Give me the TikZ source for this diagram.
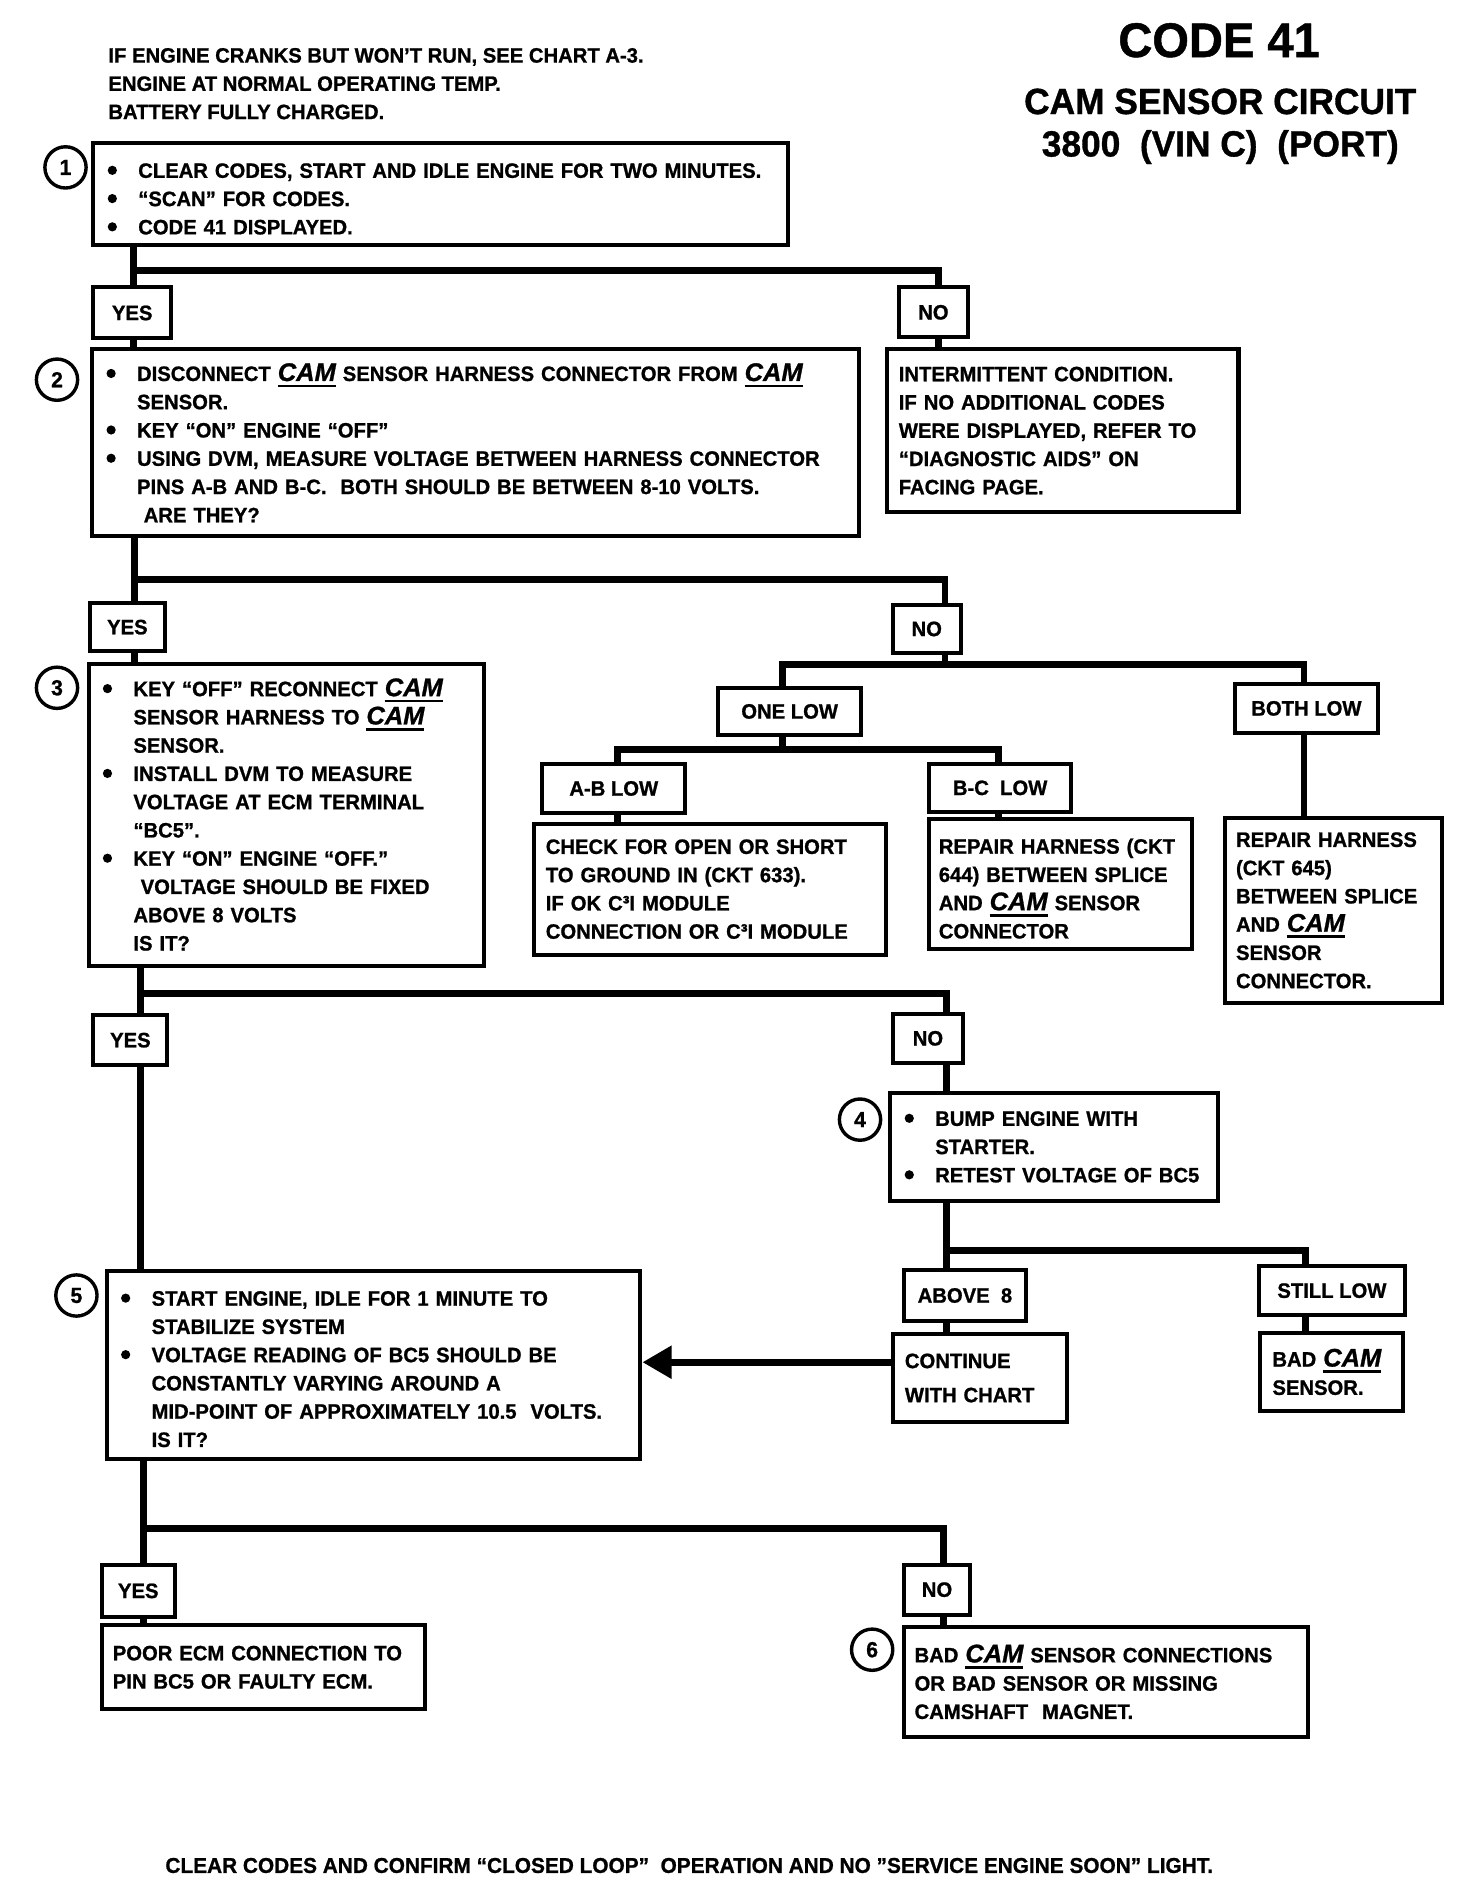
\documentclass[tikz,border=0pt]{standalone}
\usepackage{fontspec}
\setmainfont{Liberation Sans}[BoldFeatures={FakeBold=1, FakeStretch=0.97}, BoldItalicFeatures={FakeBold=1}]
\usetikzlibrary{arrows.meta,calc}

\newcommand\bodyfont{\fontsize{8.6}{11.65}\selectfont\bfseries\lineskiplimit=-20pt\relax}
\newcommand\bul{\makebox[13.5pt][l]{\hspace*{0.9pt}\tikz[baseline=0pt]\fill (1.9pt,3.1pt) circle[radius=1.9pt];}}
\newcommand\bl[1]{\mbox{\bul#1}}
\newcommand\il[1]{\mbox{\hspace*{13.5pt}#1}}
\newcommand\cam{\mbox{\setbox0\hbox{\fontsize{10.5}{10.5}\selectfont\bfseries\itshape CAM}\rlap{\rule[-2.6pt]{\wd0}{1.1pt}}\box0}}

\tikzset{
  bx/.style n args={3}{draw, line width=1.65pt, minimum width=#1, minimum height=#2,
    inner xsep=#3, inner ysep=0pt, text width=\dimexpr #1-#3-#3\relax, align=left},
  lbl/.style 2 args={draw, line width=1.65pt, minimum width=#1, minimum height=#2, inner sep=0pt},
  circ/.style={draw, circle, line width=1.4pt, minimum size=17pt, inner sep=0pt,
    font=\fontsize{9}{9}\selectfont\bfseries},
  conn/.style={line width=2.8pt, line join=miter},
}

\begin{document}
\begin{tikzpicture}[x=0.5pt, y=-0.5pt, every node/.style={font=\bodyfont}]
\useasboundingbox (0,0) rectangle (1214,1568);

% header
\node[anchor=west, align=left, inner sep=0pt] (hd) at (89,69)
  {IF ENGINE CRANKS BUT WON’T RUN, SEE CHART A-3.\\ENGINE AT NORMAL OPERATING TEMP.\\BATTERY FULLY CHARGED.};
\node[anchor=base, inner sep=0pt, font=\fontsize{20}{24}\selectfont\bfseries] (t1) at (1005,47) {CODE 41};
\node[anchor=base, inner sep=0pt, font=\fontsize{15}{18}\selectfont\bfseries] (t2) at (1006,94) {CAM SENSOR CIRCUIT};
\node[anchor=base, inner sep=0pt, font=\fontsize{15}{18}\selectfont\bfseries] (t3) at (1006,129) {3800\ \ (VIN C)\ \ (PORT)};

% step 1
\node[bx={286.5pt}{42pt}{5pt}] (b1) at (363.5,160)
  {\bl{\rule{0pt}{10pt}CLEAR CODES, START AND IDLE ENGINE FOR TWO MINUTES.}\\
   \bl{“SCAN” FOR CODES.}\\
   \bl{CODE 41 DISPLAYED.}};
\node[circ] (c1) at (54,138) {1};
\node[lbl={32pt}{21pt}] (y1) at (109,258) {YES};
\node[lbl={28.5pt}{20.5pt}] (n1) at (769.5,257.5) {NO};

% step 2
\node[bx={316pt}{77pt}{5pt}] (b2) at (392,365)
  {\bl{DISCONNECT \cam{} SENSOR HARNESS CONNECTOR FROM \cam}\\
   \il{SENSOR.}\\
   \bl{KEY “ON” ENGINE “OFF”}\\
   \bl{USING DVM, MEASURE VOLTAGE BETWEEN HARNESS CONNECTOR}\\
   \il{PINS A-B AND B-C.\ \ BOTH SHOULD BE BETWEEN 8-10 VOLTS.}\\
   \il{\hspace*{2.75pt}ARE THEY?}};
\node[circ] (c2) at (47,313) {2};
\node[bx={145pt}{67pt}{5pt}] (i1) at (876,355)
  {\mbox{INTERMITTENT CONDITION.}\\\mbox{IF NO ADDITIONAL CODES}\\\mbox{WERE DISPLAYED, REFER TO}\\\mbox{“DIAGNOSTIC AIDS” ON}\\\mbox{FACING PAGE.}};
\node[lbl={31pt}{20pt}] (y2) at (105,517) {YES};
\node[lbl={28pt}{19.5pt}] (n2) at (764,518.5) {NO};

% step 3
\node[bx={163pt}{124.5pt}{5pt}] (b3) at (236,671.5)
  {\bl{KEY “OFF” RECONNECT \cam}\\
   \il{SENSOR HARNESS TO \cam}\\
   \il{SENSOR.}\\
   \bl{INSTALL DVM TO MEASURE}\\
   \il{VOLTAGE AT ECM TERMINAL}\\
   \il{“BC5”.}\\
   \bl{KEY “ON” ENGINE “OFF.”}\\
   \il{\hspace*{3pt}VOLTAGE SHOULD BE FIXED}\\
   \il{ABOVE 8 VOLTS}\\
   \il{IS IT?}};
\node[circ] (c3) at (47,567) {3};

\node[lbl={59pt}{19.5pt}] (ol) at (651,586.5) {ONE LOW};
\node[lbl={59pt}{20pt}] (bl) at (1077,584) {BOTH LOW};
\node[lbl={59pt}{20pt}] (ab) at (506,650) {A-B LOW};
\node[lbl={58.5pt}{19.5pt}] (bcl) at (824.5,649.5) {B-C\ \ LOW};
\node[bx={145pt}{54pt}{5pt}] (ck) at (585,733)
  {\mbox{CHECK FOR OPEN OR SHORT}\\\mbox{TO GROUND IN (CKT 633).}\\\mbox{IF OK C³I MODULE}\\\mbox{CONNECTION OR C³I MODULE}};
\node[bx={108.5pt}{53.5pt}{4pt}] (r4) at (874.5,728.5)
  {\mbox{\rule{0pt}{10.3pt}REPAIR HARNESS (CKT}\\\mbox{644) BETWEEN SPLICE}\\\mbox{AND \cam{} SENSOR}\\\mbox{CONNECTOR}};
\node[bx={89.5pt}{76.5pt}{4.5pt}] (r5) at (1099.5,750.5)
  {\mbox{REPAIR HARNESS}\\\mbox{(CKT 645)}\\\mbox{BETWEEN SPLICE}\\\mbox{AND \cam}\\\mbox{SENSOR}\\\mbox{CONNECTOR.}};

\node[lbl={30.5pt}{20.5pt}] (y3) at (107.5,857.5) {YES};
\node[lbl={29pt}{20pt}] (n3) at (765,856) {NO};

% step 4
\node[bx={135pt}{44.5pt}{5pt}] (b4) at (869,945.5)
  {\bl{BUMP ENGINE WITH}\\
   \il{STARTER.}\\
   \bl{RETEST VOLTAGE OF BC5}};
\node[circ] (c4) at (709,923) {4};
\node[lbl={50.5pt}{21pt}] (a8) at (795.5,1068) {ABOVE\ \ 8};
\node[lbl={60pt}{20pt}] (sl) at (1098,1064) {STILL LOW};
\node[bx={72pt}{36pt}{5pt}] (ct) at (808,1136) {\mbox{CONTINUE}\\[2.4pt]\mbox{WITH CHART}};
\node[bx={59pt}{32pt}{5pt}] (bcs) at (1098,1131) {\mbox{BAD \cam}\\\mbox{SENSOR.}};

% step 5
\node[bx={220pt}{77.5pt}{5pt}] (b5) at (308,1125.5)
  {\bl{\rule{0pt}{9.2pt}START ENGINE, IDLE FOR 1 MINUTE TO}\\
   \il{STABILIZE SYSTEM}\\
   \bl{VOLTAGE READING OF BC5 SHOULD BE}\\
   \il{CONSTANTLY VARYING AROUND A}\\
   \il{MID-POINT OF APPROXIMATELY 10.5\ \ VOLTS.}\\
   \il{IS IT?}};
\node[circ] (c5) at (63,1068) {5};
\node[lbl={30pt}{21.5pt}] (y5) at (114,1311.5) {YES};
\node[lbl={27.5pt}{20.5pt}] (n5) at (772.5,1310.5) {NO};
\node[bx={133pt}{34.5pt}{4.5pt}] (pe) at (217,1374.5)
  {\mbox{POOR ECM CONNECTION TO}\\\mbox{PIN BC5 OR FAULTY ECM.}};
\node[bx={166.5pt}{45.5pt}{4.5pt}] (b6) at (911.5,1386.5)
  {\mbox{BAD \cam{} SENSOR CONNECTIONS}\\\mbox{OR BAD SENSOR OR MISSING}\\\mbox{CAMSHAFT\ \ MAGNET.}};
\node[circ] (c6) at (719,1360) {6};

% footer
\node[anchor=base west, inner sep=0pt, font=\fontsize{8.85}{11}\selectfont\bfseries] (ft) at (136,1544)
  {CLEAR CODES AND CONFIRM “CLOSED LOOP”\ \ OPERATION AND NO ”SERVICE ENGINE SOON” LIGHT.};

% connectors
\coordinate (j1) at (110,223); \coordinate (j1r) at (774,223);
\draw[conn] (b1.south -| j1) -- (y1.north -| j1);
\draw[conn] (j1) -- (j1r) -- (n1.north -| j1r);
\draw[conn] (n1.south -| j1r) -- (i1.north -| j1r);
\draw[conn] (y1.south -| j1) -- (b2.north -| j1);

\coordinate (j2) at (111,478); \coordinate (j2r) at (779,478);
\draw[conn] (b2.south -| j2) -- (y2.north -| j2);
\draw[conn] (j2) -- (j2r) -- (n2.north -| j2r);
\draw[conn] (y2.south -| j2) -- (b3.north -| j2);

\coordinate (j3) at (779,548); \coordinate (j3l) at (645,548); \coordinate (j3r) at (1075,548);
\draw[conn] (n2.south -| j3) -- (j3);
\draw[conn] (ol.north -| j3l) -- (j3l) -- (j3r) -- (bl.north -| j3r);
\draw[conn] (bl.south -| j3r) -- (r5.north -| j3r);

\coordinate (j4) at (645,618); \coordinate (j4l) at (509,618); \coordinate (j4r) at (823,618);
\draw[conn] (ol.south -| j4) -- (j4);
\draw[conn] (ab.north -| j4l) -- (j4l) -- (j4r) -- (bcl.north -| j4r);
\draw[conn] (ab.south -| j4l) -- (ck.north -| j4l);
\draw[conn] (bcl.south -| j4r) -- (r4.north -| j4r);

\coordinate (j5) at (116,819); \coordinate (j5r) at (780,819);
\draw[conn] (b3.south -| j5) -- (y3.north -| j5);
\draw[conn] (j5) -- (j5r) -- (n3.north -| j5r);
\draw[conn] (n3.south -| j5r) -- (b4.north -| j5r);
\draw[conn] (y3.south -| j5) -- (b5.north -| j5);

\coordinate (j6) at (780,1031); \coordinate (j6r) at (1076,1031);
\draw[conn] (b4.south -| j6) -- (a8.north -| j6);
\draw[conn] (j6) -- (j6r) -- (sl.north -| j6r);
\draw[conn] (a8.south -| j6) -- (ct.north -| j6);
\draw[conn] (sl.south -| j6r) -- (bcs.north -| j6r);

\coordinate (arr) at (600,1123);
\draw[conn, -{Triangle[length=12pt, width=13pt]}] (ct.west |- arr) -- (b5.east |- arr);

\coordinate (j7) at (118,1260); \coordinate (j7r) at (778,1260);
\draw[conn] (b5.south -| j7) -- (y5.north -| j7);
\draw[conn] (j7) -- (j7r) -- (n5.north -| j7r);
\draw[conn] (y5.south -| j7) -- (pe.north -| j7);
\draw[conn] (n5.south -| j7r) -- (b6.north -| j7r);
\end{tikzpicture}
\end{document}
